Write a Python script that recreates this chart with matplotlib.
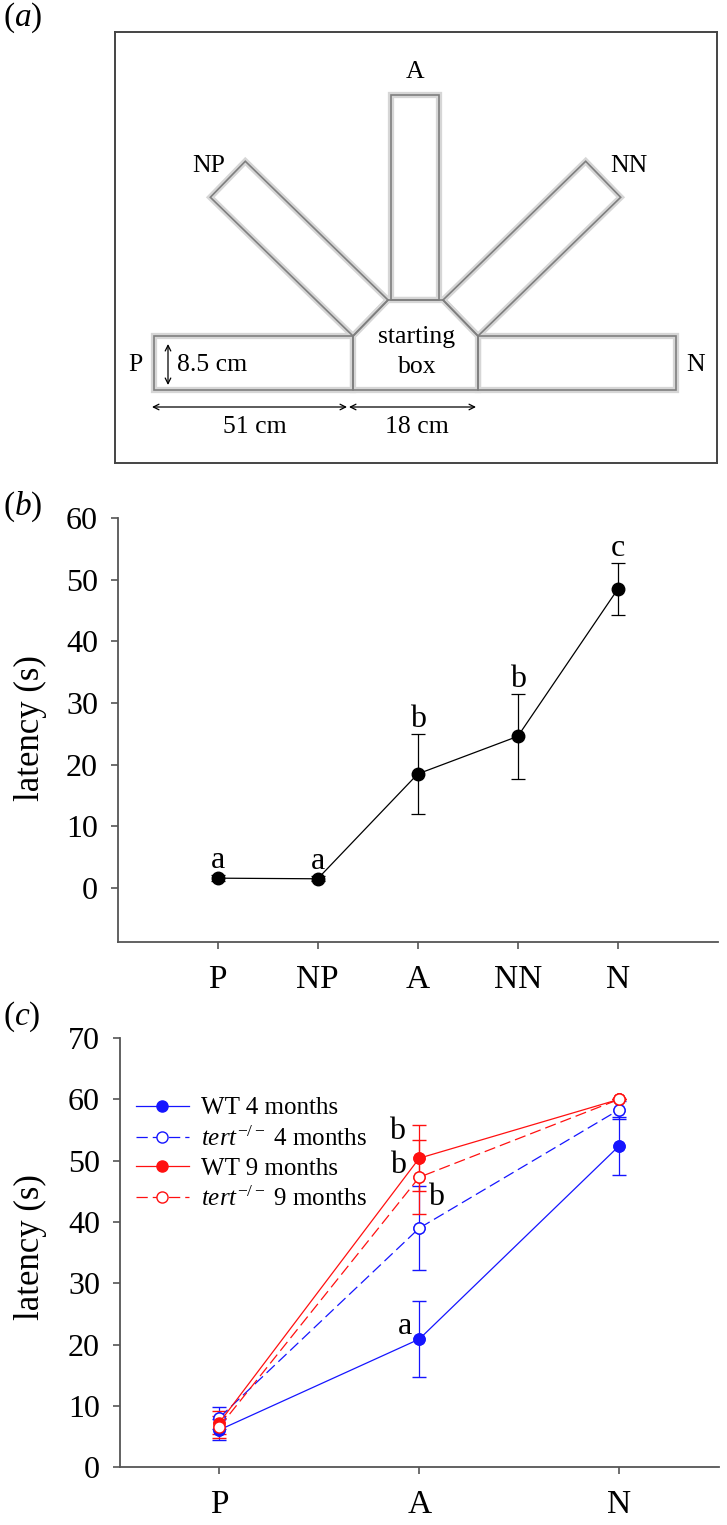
import matplotlib
matplotlib.use("Agg")
import matplotlib.pyplot as plt
import numpy as np

plt.rcParams['font.family'] = ['Liberation Serif', 'DejaVu Serif']
plt.rcParams['mathtext.fontset'] = 'custom'
plt.rcParams['mathtext.rm'] = 'Liberation Serif'
plt.rcParams['mathtext.it'] = 'Liberation Serif:italic'

# panel (b): latency per arm
arms_b = ['P', 'NP', 'A', 'NN', 'N']
latency_b = [1.6, 1.5, 18.5, 24.6, 48.5]
sem_b = [0.5, 0.4, 6.5, 6.9, 4.2]
letters_b = ['a', 'a', 'b', 'b', 'c']

# panel (c): latency per arm, by genotype and age
arms_c = ['P', 'A', 'N']
wt_4m = [6.1, 20.9, 52.4]
wt_4m_sem = [1.7, 6.2, 4.8]
tert_4m = [8.1, 39.0, 58.3]
tert_4m_sem = [1.8, 6.9, 1.5]
wt_9m = [7.3, 50.4, 60.0]
wt_9m_sem = [1.9, 5.4, 0.0]
tert_9m = [6.6, 47.3, 60.0]
tert_9m_sem = [1.8, 6.0, 0.0]

W, H = 727, 1525
fig = plt.figure(figsize=(W / 100, H / 100), dpi=100)


def px_axes(left, top, right, bottom):
    return fig.add_axes([left / W, 1 - bottom / H, (right - left) / W, (bottom - top) / H])


AX_COL = '#555555'

# ---------------- panel (a): maze schematic ----------------
axa = px_axes(115, 32, 717, 463)
axa.set_xlim(115, 717)
axa.set_ylim(463, 32)
axa.set_xticks([])
axa.set_yticks([])
for s in axa.spines.values():
    s.set_color('#444444')
    s.set_linewidth(1.4)

hexagon = np.array([(353, 390), (353, 336), (388, 300), (443, 300), (478, 336), (478, 390)], float)
centre = hexagon.mean(axis=0)


def extrude(p, q, length):
    p, q = np.asarray(p, float), np.asarray(q, float)
    d = q - p
    n = np.array([d[1], -d[0]]) / np.hypot(*d)
    if np.dot(n, (p + q) / 2 - centre) < 0:
        n = -n
    return [p, q, q + n * length, p + n * length]


arms = [
    extrude(hexagon[0], hexagon[1], 199),      # P
    extrude(hexagon[1], hexagon[2], 199),      # NP
    [(391, 300), (439, 300), (439, 95), (391, 95)],  # A
    extrude(hexagon[3], hexagon[4], 199),      # NN
    extrude(hexagon[4], hexagon[5], 198),      # N
]
for poly in arms + [hexagon]:
    axa.add_patch(plt.Polygon(poly, closed=True, facecolor='white',
                              edgecolor='#d6d6d6', lw=4.5, zorder=2))
for poly in arms + [hexagon]:
    axa.add_patch(plt.Polygon(poly, closed=True, fill=False,
                              edgecolor='#7f7f7f', lw=1.2, zorder=3))

fs_a = 18.5
axa.text(415, 72, 'A', ha='center', va='center', fontsize=fs_a)
axa.text(209, 166, 'NP', ha='center', va='center', fontsize=fs_a)
axa.text(629, 166, 'NN', ha='center', va='center', fontsize=fs_a)
axa.text(135, 365, 'P', ha='center', va='center', fontsize=fs_a)
axa.text(696, 365, 'N', ha='center', va='center', fontsize=fs_a)
axa.text(417, 337, 'starting', ha='center', va='center', fontsize=fs_a)
axa.text(417, 367, 'box', ha='center', va='center', fontsize=fs_a)
axa.text(177, 365, '8.5 cm', ha='left', va='center', fontsize=fs_a)
axa.text(255, 427, '51 cm', ha='center', va='center', fontsize=fs_a)
axa.text(417, 427, '18 cm', ha='center', va='center', fontsize=fs_a)
arrow = dict(arrowstyle='<->', lw=0.9, color='black', shrinkA=0, shrinkB=0,
             mutation_scale=10)
axa.annotate('', xy=(168, 344), xytext=(168, 385), arrowprops=arrow)
axa.annotate('', xy=(152, 407), xytext=(347, 407), arrowprops=arrow)
axa.annotate('', xy=(349, 407), xytext=(476, 407), arrowprops=arrow)


def style_axes(ax):
    for side in ['top', 'right']:
        ax.spines[side].set_visible(False)
    for side in ['left', 'bottom']:
        ax.spines[side].set_color(AX_COL)
        ax.spines[side].set_linewidth(1.3)
    ax.tick_params(axis='both', direction='out', length=5, width=1.2, color=AX_COL)
    ax.tick_params(axis='y', labelsize=23, pad=9)
    ax.tick_params(axis='x', labelsize=24, pad=11)
    ax.set_ylabel('latency (s)', fontsize=25)


# ---------------- panel (b) ----------------
axb = px_axes(117.5, 518, 718, 942)
xb = np.arange(1, len(arms_b) + 1)
axb.errorbar(xb, latency_b, yerr=sem_b, fmt='o-', color='black', lw=0.9,
             ms=9, capsize=5, elinewidth=0.9, capthick=0.9)
for x, y, e, t in zip(xb, latency_b, sem_b, letters_b):
    axb.annotate(t, (x, y + e), xytext=(0, 5), textcoords='offset points',
                 ha='center', va='baseline', fontsize=23)
axb.set_xlim(0, 6)
axb.set_ylim(-8.75, 60)
axb.set_xticks(xb)
axb.set_xticklabels(arms_b)
axb.set_yticks(np.arange(0, 61, 10))
style_axes(axb)
axb.yaxis.set_label_coords(-0.118, 0.505, transform=axb.transAxes)

# ---------------- panel (c) ----------------
axc = px_axes(119.5, 1038, 719, 1467.3)
xc = np.arange(1, len(arms_c) + 1)
BLUE, RED = '#1515ff', '#ff1010'
series = [
    (wt_4m, wt_4m_sem, BLUE, '-', True, 'WT 4 months'),
    (tert_4m, tert_4m_sem, BLUE, (0, (9, 4)), False, r'$\mathit{tert}^{-/-}$ 4 months'),
    (wt_9m, wt_9m_sem, RED, '-', True, 'WT 9 months'),
    (tert_9m, tert_9m_sem, RED, (0, (9, 4)), False, r'$\mathit{tert}^{-/-}$ 9 months'),
]
handles = []
for vals, sem, col, ls, filled, lab in series:
    axc.errorbar(xc, vals, yerr=sem, fmt='o', color=col, ms=8,
                 mfc=col if filled else 'white', mec=col, mew=1.0,
                 capsize=5, elinewidth=0.9, capthick=0.9, zorder=3)
    ln, = axc.plot(xc, vals, color=col, ls=ls, lw=0.9, marker='o', ms=8,
                   mfc=col if filled else 'white', mec=col, mew=1.0,
                   label=lab, zorder=4)
    handles.append(ln)

# significance letters next to the A-arm points
letter_pos = [(wt_9m[1], 'b', -16, 14), (tert_9m[1], 'b', -15, 3),
              (tert_4m[1], 'b', 12, 17), (wt_4m[1], 'a', -10, 4)]
for y, t, dx, dy in letter_pos:
    axc.annotate(t, (2, y), xytext=(dx, dy), textcoords='offset points',
                 ha='center', va='baseline', fontsize=23)

axc.set_xlim(0.5, 3.5)
axc.set_ylim(0, 70)
axc.set_xticks(xc)
axc.set_xticklabels(arms_c)
axc.set_yticks(np.arange(0, 71, 10))
style_axes(axc)
axc.yaxis.set_label_coords(-0.121, 0.514, transform=axc.transAxes)

axc.legend(handles=handles, loc='upper left', frameon=False, fontsize=18,
           bbox_to_anchor=(136 / W, 1 - 1097 / H), bbox_transform=fig.transFigure,
           borderpad=0, borderaxespad=0, handlelength=2.1, handletextpad=0.5,
           labelspacing=0.27)

# panel labels
for lab, y in [('a', 18), ('b', 507), ('c', 1017)]:
    fig.text(3 / W, 1 - y / H, '(' + r'$\mathit{' + lab + '}$' + ')', fontsize=24,
             ha='left', va='center')

fig.savefig('out.png', dpi=100)
